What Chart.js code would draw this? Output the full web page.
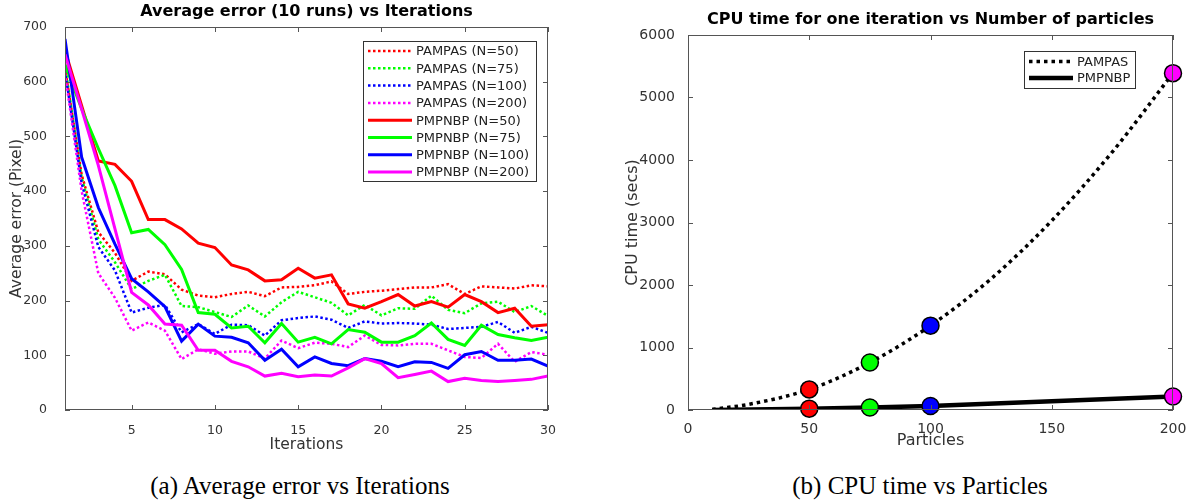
<!DOCTYPE html>
<html>
<head>
<meta charset="utf-8">
<script src="https://cdn.jsdelivr.net/npm/chart.js@4.4.1/dist/chart.umd.min.js"></script>
<style>
  body { margin: 0; background: #fff; }
  #wrap { position: relative; width: 1194px; height: 502px; overflow: hidden; }
  canvas { position: absolute; top: 0; }
  #errChart { left: 0; }
  #cpuChart { left: 597px; }
  .caption { position: absolute; top: 471px; font-family: "Liberation Serif", serif; font-size: 25px; color: #000; text-align: center; width: 520px; line-height: 30px; }
</style>
</head>
<body>
<div id="wrap">
  <canvas id="errChart" width="597" height="460"></canvas>
  <canvas id="cpuChart" width="597" height="460"></canvas>
  <div class="caption" style="left:40px">(a) Average error vs Iterations</div>
  <div class="caption" style="left:660px">(b) CPU time vs Particles</div>
</div>
<script>
// ---- left chart data: average error (10 runs) per iteration
const iterations = [1,2,3,4,5,6,7,8,9,10,11,12,13,14,15,16,17,18,19,20,21,22,23,24,25,26,27,28,29,30];
const pampas50  = [625,430,325,287,236,253,248,220,209,206,212,216,208,224,225,228,235,212,216,218,221,224,224,230,212,226,224,222,228,226];
const pampas75  = [630,425,312,270,221,236,247,190,188,179,170,191,171,197,216,206,196,173,192,173,186,185,209,183,177,195,198,179,190,172];
const pampas100 = [620,415,298,255,178,187,192,142,157,139,156,155,136,164,168,171,165,150,162,158,159,158,156,148,150,152,161,141,152,141];
const pampas200 = [615,400,250,205,145,160,145,93,111,103,107,107,94,127,113,123,121,115,136,119,118,121,121,109,97,95,121,88,106,101];
const pmpnbp50  = [657,556,455,449,418,348,348,331,305,297,265,256,236,238,259,241,247,194,186,198,211,190,198,188,211,198,178,186,153,156];
const pmpnbp75  = [632,550,478,410,324,330,302,257,178,175,150,153,123,158,124,133,121,147,142,124,124,136,159,129,118,155,138,132,127,133];
const pmpnbp100 = [678,462,370,303,240,216,189,126,157,135,133,123,91,111,79,97,85,81,94,89,79,88,87,76,101,107,91,91,93,80];
const pmpnbp200 = [650,550,447,331,215,192,157,155,109,109,89,79,62,67,61,64,62,77,94,85,59,65,71,52,58,54,52,54,56,62];
const errTicksX = [5,10,15,20,25,30];
const errTicksY = [0,100,200,300,400,500,600,700];

// ---- right chart data: CPU time for one iteration
const pampasParticles = [10,25,50,75,100,125,150,175,200];
const pampasTimes     = [10,90,330,760,1350,2100,3030,4130,5390];
const pmpnbpParticles = [10,50,75,100,200];
const pmpnbpTimes     = [0,22,40,65,215];
const markerParticles = [50,75,100,200];
const pampasMarkers   = [330,760,1350,5390];
const pmpnbpMarkers   = [22,40,65,215];
const markerColors    = ['#ff0000','#00ff00','#0000ff','#ff00ff'];
const cpuTicksX = [0,50,100,150,200];
const cpuTicksY = [0,1000,2000,3000,4000,5000,6000];

function xy(xs, ys) {
  return xs.map((x, i) => ({x: x, y: ys[i]}));
}

// box frame, inward ticks, titles and inside legend (matlab look)
const framePlugin = {
  id: 'frame',
  afterDraw(chart, args, o) {
    const ctx = chart.ctx, a = chart.chartArea;
    const xs = chart.scales.x, ys = chart.scales.y;
    ctx.save();
    ctx.strokeStyle = '#555';
    ctx.lineWidth = 1;
    ctx.strokeRect(Math.round(a.left) + 0.5, Math.round(a.top) + 0.5, Math.round(a.width) - 1, Math.round(a.height) - 1);
    ctx.beginPath();
    xs.ticks.forEach(t => {
      const px = Math.round(xs.getPixelForValue(t.value)) + 0.5;
      ctx.moveTo(px, a.bottom); ctx.lineTo(px, a.bottom - 5);
      ctx.moveTo(px, a.top); ctx.lineTo(px, a.top + 5);
    });
    ys.ticks.forEach(t => {
      const py = Math.round(ys.getPixelForValue(t.value)) + 0.5;
      ctx.moveTo(a.left, py); ctx.lineTo(a.left + 5, py);
      ctx.moveTo(a.right, py); ctx.lineTo(a.right - 5, py);
    });
    ctx.stroke();

    ctx.fillStyle = '#000';
    ctx.textAlign = 'center';
    ctx.textBaseline = 'middle';
    ctx.font = 'bold 16px "DejaVu Sans"';
    ctx.fillText(o.title, (a.left + a.right) / 2, o.titleY);
    ctx.fillStyle = '#333';
    ctx.font = o.labelFont;
    ctx.fillText(o.xLabel, (a.left + a.right) / 2, o.xLabelY);
    ctx.save();
    ctx.translate(o.yLabelX, (a.top + a.bottom) / 2);
    ctx.rotate(-Math.PI / 2);
    ctx.fillText(o.yLabel, 0, 0);
    ctx.restore();

    // legend
    const lg = o.legend;
    const items = chart.data.datasets.filter(d => d.label);
    ctx.fillStyle = '#fff';
    ctx.fillRect(lg.x, lg.y, lg.w, lg.h);
    ctx.strokeStyle = '#333';
    ctx.strokeRect(lg.x + 0.5, lg.y + 0.5, lg.w, lg.h);
    ctx.font = '13px "DejaVu Sans"';
    ctx.textAlign = 'left';
    items.forEach((d, i) => {
      const cy = lg.y + lg.first + i * lg.step;
      ctx.beginPath();
      ctx.strokeStyle = d.borderColor;
      ctx.lineWidth = d.borderWidth;
      ctx.setLineDash(d.borderDash || []);
      ctx.moveTo(lg.x + 5, cy);
      ctx.lineTo(lg.x + 5 + lg.line, cy);
      ctx.stroke();
      ctx.setLineDash([]);
      ctx.fillStyle = '#222';
      ctx.fillText(d.label, lg.x + 9 + lg.line, cy + 1);
    });
    ctx.restore();
  }
};

function fixedTicks(arr) {
  return function (scale) { scale.ticks = arr.map(v => ({value: v})); };
}

// later series are drawn on top, like matlab's hold on
function errLine(label, color, values, dotted, order) {
  return {
    label: label,
    data: xy(iterations, values),
    borderColor: color,
    borderWidth: dotted ? 2.5 : 3,
    borderDash: dotted ? [2.5, 2.5] : [],
    pointRadius: 0,
    tension: 0,
    fill: false,
    order: order
  };
}

const plainNum = v => String(v);

new Chart(document.getElementById('errChart'), {
  type: 'line',
  data: {
    datasets: [
      errLine('PAMPAS (N=50)', '#ff0000', pampas50, true, 8),
      errLine('PAMPAS (N=75)', '#00ff00', pampas75, true, 7),
      errLine('PAMPAS (N=100)', '#0000ff', pampas100, true, 6),
      errLine('PAMPAS (N=200)', '#ff00ff', pampas200, true, 5),
      errLine('PMPNBP (N=50)', '#ff0000', pmpnbp50, false, 4),
      errLine('PMPNBP (N=75)', '#00ff00', pmpnbp75, false, 3),
      errLine('PMPNBP (N=100)', '#0000ff', pmpnbp100, false, 2),
      errLine('PMPNBP (N=200)', '#ff00ff', pmpnbp200, false, 1)
    ]
  },
  options: {
    responsive: false,
    animation: false,
    devicePixelRatio: 1,
    layout: {padding: {top: 27, right: 49, left: 0, bottom: 0}},
    scales: {
      x: {
        type: 'linear', min: 1, max: 30,
        afterBuildTicks: fixedTicks(errTicksX),
        afterFit: s => { s.height = 50; },
        grid: {display: false}, border: {display: false},
        ticks: {padding: 5, color: '#333', callback: plainNum, font: {family: 'DejaVu Sans', size: 12.5}}
      },
      y: {
        min: 0, max: 700,
        afterBuildTicks: fixedTicks(errTicksY),
        afterFit: s => { s.width = 65; },
        grid: {display: false}, border: {display: false},
        ticks: {padding: 10, color: '#333', callback: plainNum, font: {family: 'DejaVu Sans', size: 12.5}}
      }
    },
    plugins: {
      legend: {display: false},
      tooltip: {enabled: false},
      frame: {
        title: 'Average error (10 runs) vs Iterations', titleY: 12,
        xLabel: 'Iterations', xLabelY: 445,
        yLabel: 'Average error (Pixel)', yLabelX: 17,
        labelFont: '15.5px "DejaVu Sans"',
        legend: {x: 363, y: 41, w: 173, h: 140, first: 10, step: 17.3, line: 44}
      }
    }
  },
  plugins: [framePlugin]
});

new Chart(document.getElementById('cpuChart'), {
  type: 'line',
  data: {
    datasets: [
      {
        label: '',
        data: xy(markerParticles, pampasMarkers),
        showLine: false,
        clip: false,
        pointRadius: 8.5,
        pointBorderWidth: 1.5,
        pointBorderColor: '#000',
        pointBackgroundColor: markerColors
      },
      {
        label: '',
        data: xy(markerParticles, pmpnbpMarkers),
        showLine: false,
        clip: false,
        pointRadius: 8.5,
        pointBorderWidth: 1.5,
        pointBorderColor: '#000',
        pointBackgroundColor: markerColors
      },
      {
        label: 'PAMPAS',
        data: xy(pampasParticles, pampasTimes),
        borderColor: '#000',
        borderWidth: 3.5,
        borderDash: [3.5, 4],
        cubicInterpolationMode: 'monotone',
        pointRadius: 0,
        fill: false
      },
      {
        label: 'PMPNBP',
        data: xy(pmpnbpParticles, pmpnbpTimes),
        borderColor: '#000',
        borderWidth: 4.5,
        pointRadius: 0,
        tension: 0,
        fill: false
      }
    ]
  },
  options: {
    responsive: false,
    animation: false,
    devicePixelRatio: 1,
    layout: {padding: {top: 35, right: 21, left: 0, bottom: 0}},
    scales: {
      x: {
        type: 'linear', min: 0, max: 200,
        afterBuildTicks: fixedTicks(cpuTicksX),
        afterFit: s => { s.height = 50; },
        grid: {display: false}, border: {display: false},
        ticks: {padding: 3, color: '#333', callback: plainNum, font: {family: 'DejaVu Sans', size: 14}}
      },
      y: {
        min: 0, max: 6000,
        afterBuildTicks: fixedTicks(cpuTicksY),
        afterFit: s => { s.width = 91; },
        grid: {display: false}, border: {display: false},
        ticks: {padding: 5, color: '#333', callback: plainNum, font: {family: 'DejaVu Sans', size: 14}}
      }
    },
    plugins: {
      legend: {display: false},
      tooltip: {enabled: false},
      frame: {
        title: 'CPU time for one iteration vs Number of particles', titleY: 20,
        xLabel: 'Particles', xLabelY: 441,
        yLabel: 'CPU time (secs)', yLabelX: 36,
        labelFont: '16px "DejaVu Sans"',
        legend: {x: 427, y: 51, w: 111, h: 37, first: 10.5, step: 16.6, line: 44}
      }
    }
  },
  plugins: [framePlugin]
});
</script>
</body>
</html>
